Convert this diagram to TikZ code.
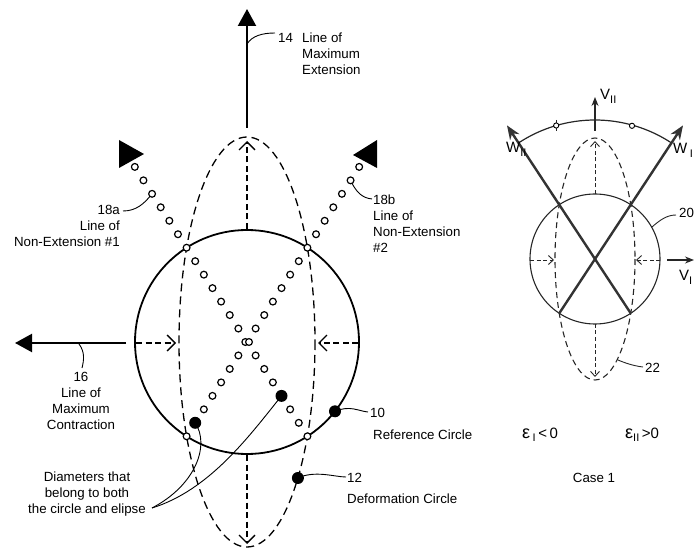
\documentclass[tikz,border=0pt]{standalone}
\usepackage{fontspec}
\setmainfont{Liberation Sans}
\usetikzlibrary{arrows.meta,calc}
\begin{document}
\begin{tikzpicture}[x=1pt,y=-1pt,
  txt/.style={font=\fontsize{13.3}{16}\selectfont, inner sep=0pt},
  symb/.style={font=\fontsize{15}{15}\selectfont, inner sep=0pt, anchor=base west},
  odot/.style={draw, fill=white, line width=1.2pt},
  smalldot/.style={draw, fill=white, line width=0.9pt},
  lead/.style={line width=0.9pt},
  bigarrow/.style={line width=2.2pt, -{Triangle[length=17pt,width=18pt]}},
  dasharrow/.style={line width=1.3pt, dash pattern=on 6pt off 3.5pt, -{Straight Barb[length=8pt,width=16pt,line width=1.3pt]}},
  rdasharrow/.style={line width=0.9pt, black!85, dash pattern=on 4pt off 2.5pt, -{Straight Barb[length=5pt,width=9pt,line width=0.9pt]}},
  wline/.style={line width=2.4pt, black!80, -{Stealth[length=14pt,width=11pt]}},
  vline/.style={line width=1.1pt, black!85, -{Stealth[length=9pt,width=7pt]}}
]
\useasboundingbox (0,0) rectangle (694,548);
% ---------------- left figure ----------------
\coordinate (C) at (247,342);
\coordinate (ctop) at (247,229);
\coordinate (cbot) at (247,455);
\coordinate (cleft) at (136,343);
\coordinate (cright) at (358,343);
\coordinate (etop) at (247,141);
\coordinate (ebot) at (247,544);
\coordinate (eleft) at (176,343);
\coordinate (eright) at (318,343);
\coordinate (a14s) at (247,128);
\coordinate (a14e) at (247,9);
\coordinate (a16s) at (126,343);
\coordinate (a16e) at (15,343);
\coordinate (fd1) at (281.5,395.9);
\coordinate (fd2) at (195.2,422.8);
\coordinate (fd10) at (335,411.3);
\coordinate (fd12) at (297.9,478);
\coordinate (a11) at (152.07,193.83);
\coordinate (b12) at (350.56,180.36);
\coordinate (tip) at (152,508);

% leaders (drawn first)
\draw[lead] (247,44) .. controls (252,36) and (262,33) .. (275,33);
\draw[lead] (79,344) .. controls (85,352) and (84,360) .. (82,368);
\draw[lead] (123,211) .. controls (136,211) and (144,204) .. (a11);
\draw[lead] (b12) .. controls (356,192) and (362,198) .. (372,199);
\draw[lead] (fd10) .. controls (350,405) and (358,411) .. (368,412);
\draw[lead] (fd12) .. controls (315,470) and (335,477) .. (346,477);
\draw[lead] (fd2) .. controls (210,445) and (196,485) .. (tip);
\draw[lead] (fd1) .. controls (250,435) and (210,490) .. (tip);

% circle and ellipse
\draw[line width=1.8pt] (C) circle[radius=112];
\draw[line width=1.3pt, dash pattern=on 8pt off 5pt] (C) ellipse[x radius=68, y radius=205];

% big arrows
\draw[bigarrow] (a14s) -- (a14e);
\draw[bigarrow] (a16s) -- (a16e);

% dashed inner arrows
\draw[dasharrow] (ctop) -- (etop);
\draw[dasharrow] (cbot) -- (ebot);
\draw[dasharrow] (cleft) -- (eleft);
\draw[dasharrow] (cright) -- (eright);

% lines of non-extension (dotted)
\foreach \k in {-13,...,-1,1,2,3,5,6,7}
  \draw[odot] ({247+\k*8.63},{342+\k*13.47}) circle[radius=3.4];
\foreach \k in {-13,...,-1,1,2,3,4,5,7}
  \draw[odot] ({247-\k*8.63},{342+\k*13.47}) circle[radius=3.4];
\draw[odot] (245.3,342) circle[radius=3.4];
\draw[odot] (249,342) circle[radius=3.4];
\fill (119,140) -- (119,168) -- (144,154) -- cycle;
\fill (377,140) -- (377,168) -- (353,155) -- cycle;

% filled dots
\fill (fd1) circle[radius=6];
\fill (fd2) circle[radius=6];
\fill (fd10) circle[radius=6];
\fill (fd12) circle[radius=6];

% texts
\node[txt, anchor=north west] (n14) at (278,33) {14};
\node[txt, anchor=north west, align=left] (t14) at (302,33) {Line of\\Maximum\\Extension};
\node[txt, anchor=north east, align=right] (t18a) at (120,205) {18a\\Line of\\Non-Extension \#1};
\node[txt, anchor=north west, align=left] (t18b) at (373,195) {18b\\Line of\\Non-Extension\\\#2};
\node[txt, anchor=north, align=center] (t16) at (81,372) {16\\Line of\\Maximum\\Contraction};
\node[txt, anchor=north, align=center] (tdia) at (87,471.5) {Diameters that\\belong to both\\the circle and elipse};
\node[txt, anchor=north west] (n10) at (370,408) {10};
\node[txt, anchor=north west] (t10) at (373,430) {Reference Circle};
\node[txt, anchor=north west] (n12) at (347,473) {12};
\node[txt, anchor=north west] (t12) at (347,494) {Deformation Circle};

% ---------------- right figure ----------------
\coordinate (D) at (595,259);
\coordinate (w2s) at (630.75,313.3);
\coordinate (w2e) at (507,125.4);
\coordinate (w1s) at (559.25,313.3);
\coordinate (w1e) at (683,125.4);
\coordinate (m1) at (556.2,125.5);
\coordinate (m2) at (632,125.8);
\coordinate (v2s) at (595,131);
\coordinate (v2e) at (595,97);
\coordinate (v1s) at (667,260);
\coordinate (v1e) at (694,260);
\coordinate (dtop) at (595,194);
\coordinate (dbot) at (595,324);
\coordinate (dleft) at (530,260);
\coordinate (dright) at (660,260);
\coordinate (ftop) at (595,141);
\coordinate (fbot) at (595,377);
\coordinate (fleft) at (554,260);
\coordinate (fright) at (636,260);

\draw[line width=0.9pt, black!85] (652,227) .. controls (660,220) and (667,215) .. (676,215);
\draw[line width=0.9pt, black!85] (618,360) .. controls (625,363) and (634,366) .. (643,367);

\draw[line width=1.1pt, black!85] (D) circle[radius=65];
\draw[line width=1.1pt, black!85, dash pattern=on 6pt off 4pt] (D) ellipse[x radius=40, y radius=121];
\draw[line width=1.2pt, black!85] ($(D)+(-123.4:139)$) arc[start angle=-123.4, end angle=-56.6, radius=139];

\draw[rdasharrow] (dtop) -- (ftop);
\draw[rdasharrow] (dbot) -- (fbot);
\draw[rdasharrow] (dleft) -- (fleft);
\draw[rdasharrow] (dright) -- (fright);

\draw[wline] (w2s) -- (w2e);
\draw[wline] (w1s) -- (w1e);
\draw[vline] (v2s) -- (v2e);
\draw[vline] (v1s) -- (v1e);

\draw[line width=0.9pt, black!85] (556.2,120) -- (556.2,131);
\draw[smalldot] (m1) circle[radius=2.6];
\draw[smalldot] (m2) circle[radius=2.6];

\node[symb] (lv2) at (600,100) {V\raisebox{-4pt}{\fontsize{11}{11}\selectfont II}};
\node[symb] (lw2) at (506,153) {W\raisebox{-4pt}{\fontsize{11}{11}\selectfont II}};
\node[symb] (lw1) at (673,154) {W\,\raisebox{-4pt}{\fontsize{11}{11}\selectfont I}};
\node[symb] (lv1) at (679,281) {V\raisebox{-4pt}{\fontsize{11}{11}\selectfont I}};
\node[txt, anchor=north west] (n20) at (679,208) {20};
\node[txt, anchor=north west] (n22) at (645,363) {22};
\node[txt, anchor=base west, font=\fontsize{15}{16}\selectfont] (e1) at (522,438) {{\fontsize{18}{18}\selectfont ε}\,\raisebox{-3pt}{\fontsize{11}{11}\selectfont I}\,<\,0};
\node[txt, anchor=base west, font=\fontsize{15}{16}\selectfont] (e2) at (625,438) {{\fontsize{18}{18}\selectfont ε}\raisebox{-3pt}{\fontsize{11}{11}\selectfont II}\,>0};
\node[txt, anchor=north] (case) at (594,473) {Case 1};
\end{tikzpicture}
\end{document}
